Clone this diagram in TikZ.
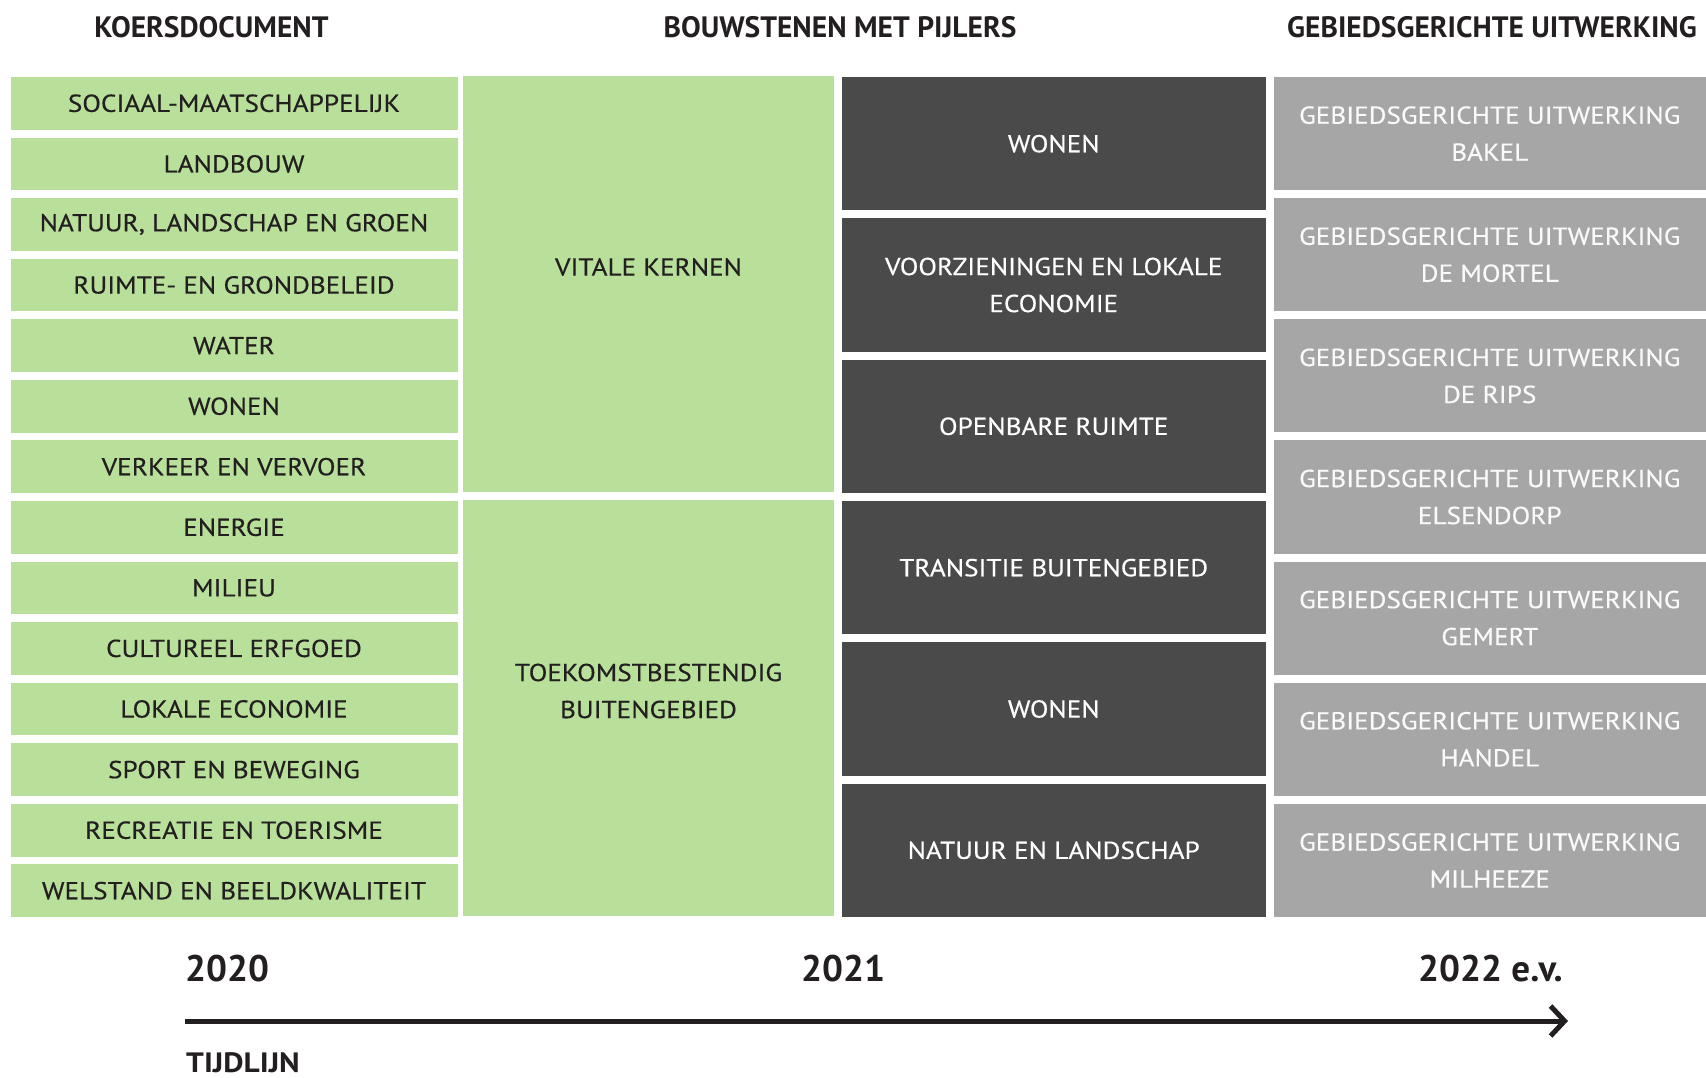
\documentclass[tikz,border=0pt]{standalone}
\usepackage{fontspec}
\setmainfont{PT Sans}
\newfontfamily\bodyfont[FakeStretch=1.11, FakeBold=0.4]{PT Sans}
\newfontfamily\wideheavy[FakeStretch=1.12]{PT Sans}
\usetikzlibrary{arrows.meta}
\definecolor{kgreen}{HTML}{B8E09A}
\definecolor{kdark}{HTML}{4A4A4A}
\definecolor{kgrey}{HTML}{A6A6A6}
\definecolor{ktext}{HTML}{231F20}
\tikzset{ k/.style = { rectangle
                       , fill         = kgreen
                       , text         = ktext
                       , inner sep    = 0pt
                       , minimum width  = 447pt
                       , minimum height = 52.6pt
                       , font = \bodyfont\fontsize{24.5}{37}\selectfont
                       },
            p/.style = { rectangle
            , fill         = kgreen
            , inner sep    = 0pt
            , minimum width  = 371pt
            , minimum height = 416pt
            },
            pl/.style = { text      = ktext
            , align     = center
            , yshift    = 17pt
            , font = \bodyfont\fontsize{24.5}{37}\selectfont
            },
            w/.style = { rectangle
            , fill         = kdark
            , text         = white
            , inner sep    = 0pt
            , align        = center
            , minimum width  = 423.5pt
            , minimum height = 133.3pt
            , font = \bodyfont\fontsize{24.5}{37}\selectfont
            },
            u/.style = { rectangle
            , fill         = kgrey
            , text         = white!94!kgrey
            , inner sep    = 0pt
            , align        = center
            , minimum width  = 432.5pt
            , minimum height = 113.1pt
            , font = \bodyfont\fontsize{24.5}{37}\selectfont
            },
            h/.style = { inner sep = 0pt
            , anchor = base
            , text   = ktext
            , font   = \bfseries\fontsize{29.5}{34}\selectfont
            },
            yr/.style = { inner sep = 0pt
            , anchor = base west
            , text   = ktext
            , font   = \bfseries\fontsize{37}{42}\selectfont
            }
          }

\begin{document}
\begin{tikzpicture}[x=1pt, y=-1pt]
            \useasboundingbox (0,0) rectangle (1706,1077);
            % headers
            \node[h] (hk) at (211.5,37.3) {KOERSDOCUMENT};
            \node[h] (hb) at (840,37.3) {BOUWSTENEN MET PIJLERS};
            \node[h] (hg) at (1492,37.3) {GEBIEDSGERICHTE UITWERKING};
            % koersdocument
            \node[k] (k1)  at (234,103.3) {SOCIAAL-MAATSCHAPPELIJK};
            \node[k] (k2)  at (234,163.9) {LANDBOUW};
            \node[k] (k3)  at (234,224.4) {NATUUR, LANDSCHAP EN GROEN};
            \node[k] (k4)  at (234,285.0) {RUIMTE- EN GRONDBELEID};
            \node[k] (k5)  at (234,345.6) {WATER};
            \node[k] (k6)  at (234,406.2) {WONEN};
            \node[k] (k7)  at (234,466.7) {VERKEER EN VERVOER};
            \node[k] (k8)  at (234,527.3) {ENERGIE};
            \node[k] (k9)  at (234,587.9) {MILIEU};
            \node[k] (k10) at (234,648.4) {CULTUREEL ERFGOED};
            \node[k] (k11) at (234,709.0) {LOKALE ECONOMIE};
            \node[k] (k12) at (234,769.6) {SPORT EN BEWEGING};
            \node[k] (k13) at (234,830.2) {RECREATIE EN TOERISME};
            \node[k] (k14) at (234,890.7) {WELSTAND EN BEELDKWALITEIT};
            % bouwstenen
            \node[p] (p1) at (648.5,284) {};
            \node[p] (p2) at (648.5,708) {};
            \node[pl] (p1t) at (p1.center) {VITALE KERNEN};
            \node[pl] (p2t) at (p2.center) {TOEKOMSTBESTENDIG\\BUITENGEBIED};
            % pijlers
            \node[w] (b1) at (1053.75,143.7) {WONEN};
            \node[w] (b2) at (1053.75,285.0) {VOORZIENINGEN EN LOKALE\\ECONOMIE};
            \node[w] (b3) at (1053.75,426.3) {OPENBARE RUIMTE};
            \node[w] (b4) at (1053.75,567.7) {TRANSITIE BUITENGEBIED};
            \node[w] (b5) at (1053.75,709.0) {WONEN};
            \node[w] (b6) at (1053.75,850.3) {NATUUR EN LANDSCHAP};
            % gebiedsgericht
            \node[u] (u1) at (1489.75,133.6) {GEBIEDSGERICHTE UITWERKING\\BAKEL};
            \node[u] (u2) at (1489.75,254.7) {GEBIEDSGERICHTE UITWERKING\\DE MORTEL};
            \node[u] (u3) at (1489.75,375.9) {GEBIEDSGERICHTE UITWERKING\\DE RIPS};
            \node[u] (u4) at (1489.75,497.0) {GEBIEDSGERICHTE UITWERKING\\ELSENDORP};
            \node[u] (u5) at (1489.75,618.1) {GEBIEDSGERICHTE UITWERKING\\GEMERT};
            \node[u] (u6) at (1489.75,739.3) {GEBIEDSGERICHTE UITWERKING\\HANDEL};
            \node[u] (u7) at (1489.75,860.4) {GEBIEDSGERICHTE UITWERKING\\MILHEEZE};
            % tijdlijn
            \node[yr] (y20) at (185,981.7) {2020};
            \node[yr] (y21) at (801,981.7) {2021};
            \node[yr] (y22) at (1418,981.7) {2022 e.v.};
            \coordinate (t0) at (185,1021);
            \coordinate (t1) at (1568,1021);
            \draw[ktext, line width=5pt, -{Straight Barb[length=14pt,width=30pt]}] (t0) -- (t1);
            \node[yr, text depth=0pt, font=\wideheavy\bfseries\fontsize{28}{32}\selectfont] (tl) at (186,1072) {TIJDLIJN};
\end{tikzpicture}
\end{document}
